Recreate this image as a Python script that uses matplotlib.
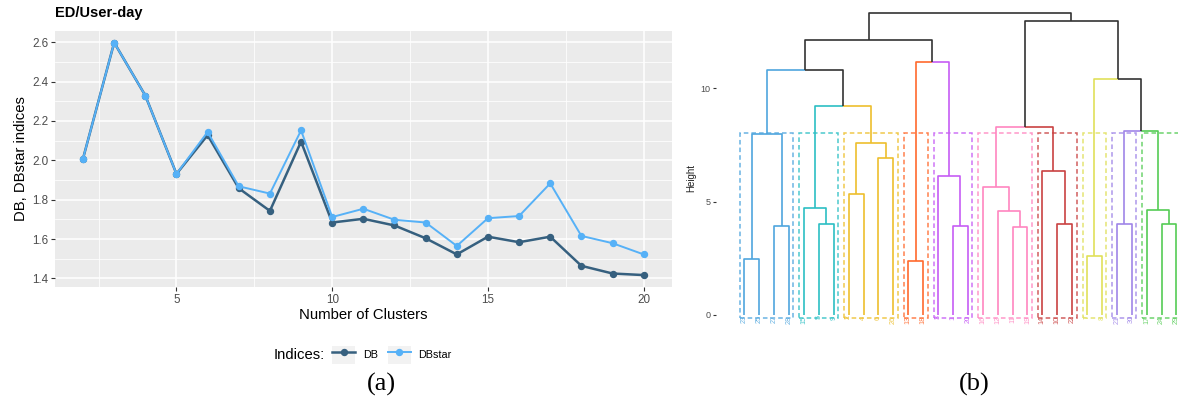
import matplotlib
matplotlib.use('Agg')
import matplotlib.pyplot as plt
from matplotlib.ticker import MultipleLocator
from matplotlib.legend_handler import HandlerLine2D
from matplotlib.lines import Line2D
from matplotlib.patches import Rectangle

plt.rcParams['font.family'] = ['Liberation Sans', 'DejaVu Sans']

# ---- cluster validity indices (panel a) ----
n_clusters = list(range(2, 21))
db = [2.009, 2.598, 2.329, 1.931, 2.128, 1.858, 1.743, 2.095, 1.684, 1.703,
      1.669, 1.604, 1.522, 1.612, 1.584, 1.612, 1.464, 1.425, 1.417]
dbstar = [2.009, 2.598, 2.329, 1.931, 2.144, 1.868, 1.831, 2.152, 1.712, 1.754,
          1.698, 1.684, 1.565, 1.706, 1.717, 1.883, 1.616, 1.579, 1.522]
index_names = ['DB', 'DBstar']
index_colors = ['#36607F', '#56B1F7']

# ---- hierarchical clustering (panel b) ----
leaf_labels = ['23', '25', '27', '28', '15', '5', '9', '2', '4', '6', '26',
               '13', '18', '3', '1', '20', '16', '12', '11', '19', '14', '10',
               '22', '7', '8', '21', '30', '17', '24', '29']
cluster_sizes = [4, 3, 4, 2, 3, 4, 3, 2, 2, 3]
cluster_colors = ['#4FA6DE', '#2CBFC4', '#EDBF2D', '#FF6A2E', '#C65CF5',
                  '#FF85C0', '#C94242', '#E0E05A', '#9F85E8', '#55CC55']
# hclust-style merge table: negative = leaf position, positive = earlier merge row
merge_left = [-1, -3, 1, -6, -5, -8, -10, 6, -12, -15, -14, -19, -18, -17, -22,
              -21, -24, -26, -29, -28, 5, 3, 9, 22, 14, 18, 17, 25, 24]
merge_right = [-2, -4, 2, -7, 4, -9, -11, 7, -13, -16, 10, -20, 12, 13, -23,
               15, -25, -27, -30, 19, 8, 21, 11, 23, 16, 20, 26, 27, 28]
merge_height = [2.47, 3.93, 7.99, 4.00, 4.71, 5.32, 6.94, 7.57, 2.40, 3.94,
                6.13, 3.90, 4.60, 5.66, 4.00, 6.37, 2.62, 4.00, 4.03, 4.63,
                9.23, 10.82, 11.14, 12.13, 8.31, 8.10, 10.40, 12.95, 13.33]
cut_height = 8.03

fig = plt.figure(figsize=(11.78, 4.05), dpi=100)

# ================= panel (a) =================
ax = fig.add_axes([55 / 1178, 118.3 / 405, 616.7 / 1178, 255.7 / 405])
ax.set_facecolor('#EBEBEB')
for s in ax.spines.values():
    s.set_visible(False)

for vals, name, col, lw in [(db, index_names[0], index_colors[0], 1.8),
                            (dbstar, index_names[1], index_colors[1], 1.4)]:
    ax.plot(n_clusters, vals, color=col, lw=lw, marker='o', ms=4.3,
            label=name, zorder=3)

lo = min(db + dbstar)
hi = max(db + dbstar)
r = hi - lo
ax.set_ylim(lo - 0.05 * r, hi + 0.05 * r)
xr = n_clusters[-1] - n_clusters[0]
ax.set_xlim(n_clusters[0] - 0.05 * xr, n_clusters[-1] + 0.05 * xr)

ax.xaxis.set_major_locator(MultipleLocator(5))
ax.xaxis.set_minor_locator(MultipleLocator(2.5))
ax.yaxis.set_major_locator(MultipleLocator(0.2))
ax.yaxis.set_minor_locator(MultipleLocator(0.1))
ax.yaxis.set_major_formatter(plt.FuncFormatter(lambda v, p: f'{v:.1f}'))
ax.grid(which='major', color='white', lw=1.1)
ax.grid(which='minor', color='white', lw=0.55)
ax.set_axisbelow(True)
ax.tick_params(which='major', length=3, width=0.8, color='#333333',
               labelcolor='#4D4D4D', labelsize=8.4, pad=2)
ax.tick_params(which='minor', length=0)

ax.set_xlabel('Number of Clusters', fontsize=10.7, labelpad=2)
ax.set_ylabel('DB, DBstar indices', fontsize=10.7, labelpad=3)
fig.text(55 / 1178, 1 - 13 / 405, 'ED/User-day', fontsize=10.5,
         fontweight='bold', va='center', ha='left')


class KeyHandler(HandlerLine2D):
    def create_artists(self, legend, orig_handle, xdescent, ydescent,
                       width, height, fontsize, trans):
        bg = Rectangle((-xdescent, -ydescent), width, height,
                       fc='#F2F2F2', ec='none', transform=trans)
        arts = super().create_artists(legend, orig_handle, xdescent, ydescent,
                                      width, height, fontsize, trans)
        return [bg] + list(arts)


handles, labels = ax.get_legend_handles_labels()
fig.text(325 / 1178, 1 - 355 / 405, 'Indices:', fontsize=10.7,
         ha='right', va='center')
fig.legend(handles, labels, loc='center left',
           bbox_to_anchor=(332 / 1178, 1 - 355 / 405), ncol=2, frameon=False,
           handler_map={Line2D: KeyHandler(numpoints=1)},
           handlelength=2.15, handleheight=2.15, handletextpad=0.7,
           columnspacing=0.9, fontsize=7.8, borderpad=0, borderaxespad=0)

fig.text(381 / 1178, 1 - 384 / 405, '(a)', fontsize=19,
         family='Liberation Serif', ha='center', va='center')

# ================= panel (b) =================
px_per_unit = 22.67
leaf_step = 14.9
bx0 = 716.0
xmin = 1 - (744.3 - bx0) / leaf_step
xmax = 1 + (1192 - 744.3) / leaf_step
ymin, ymax = -0.9, 13.7
bax = fig.add_axes([bx0 / 1178, (90 - (-ymin) * px_per_unit) / 405,
                    (xmax - xmin) * leaf_step / 1178,
                    (ymax - ymin) * px_per_unit / 405])
bax.set_xlim(xmin, xmax)
bax.set_ylim(ymin, ymax)
for s in bax.spines.values():
    s.set_visible(False)
bax.set_xticks([])
bax.set_yticks([0, 5, 10])
bax.tick_params(axis='y', length=2.5, width=0.8, color='#333333',
                labelcolor='#4D4D4D', labelsize=6.5, pad=1.5)

leaf_color = []
for k, n in enumerate(cluster_sizes):
    leaf_color += [cluster_colors[k]] * n

node_x, node_h, node_c = [], [], []


def node_info(i):
    if i < 0:
        return float(-i), 0.0, leaf_color[-i - 1]
    return node_x[i - 1], node_h[i - 1], node_c[i - 1]


for a, b, h in zip(merge_left, merge_right, merge_height):
    xa, ha, ca = node_info(a)
    xb, hb, cb = node_info(b)
    xm = (xa + xb) / 2
    for xc, hc, cc in [(xa, ha, ca), (xb, hb, cb)]:
        bax.plot([xc, xc, xm], [hc, h, h], color=cc, lw=1.2,
                 solid_capstyle='butt', clip_on=False)
    node_x.append(xm)
    node_h.append(h)
    node_c.append(ca if ca == cb else '#333333')

start = 1
for n, col in zip(cluster_sizes, cluster_colors):
    end = start + n - 1
    bax.add_patch(Rectangle((start - 0.3, -0.15), end - start + 0.6,
                            cut_height + 0.15, fill=False, ec=col, lw=1.1,
                            ls=(0, (3, 2)), alpha=0.85, clip_on=False))
    start = end + 1

for i, lab in enumerate(leaf_labels):
    bax.text(i + 1, -0.02, lab, rotation=90, ha='center', va='top',
             fontsize=5.2, color=leaf_color[i], alpha=0.85)

fig.text(691 / 1178, 1 - 178 / 405, 'Height', rotation=90, fontsize=7,
         ha='center', va='center', color='#222222')
fig.text(974 / 1178, 1 - 384 / 405, '(b)', fontsize=19,
         family='Liberation Serif', ha='center', va='center')

fig.savefig('out.png', dpi=100)
